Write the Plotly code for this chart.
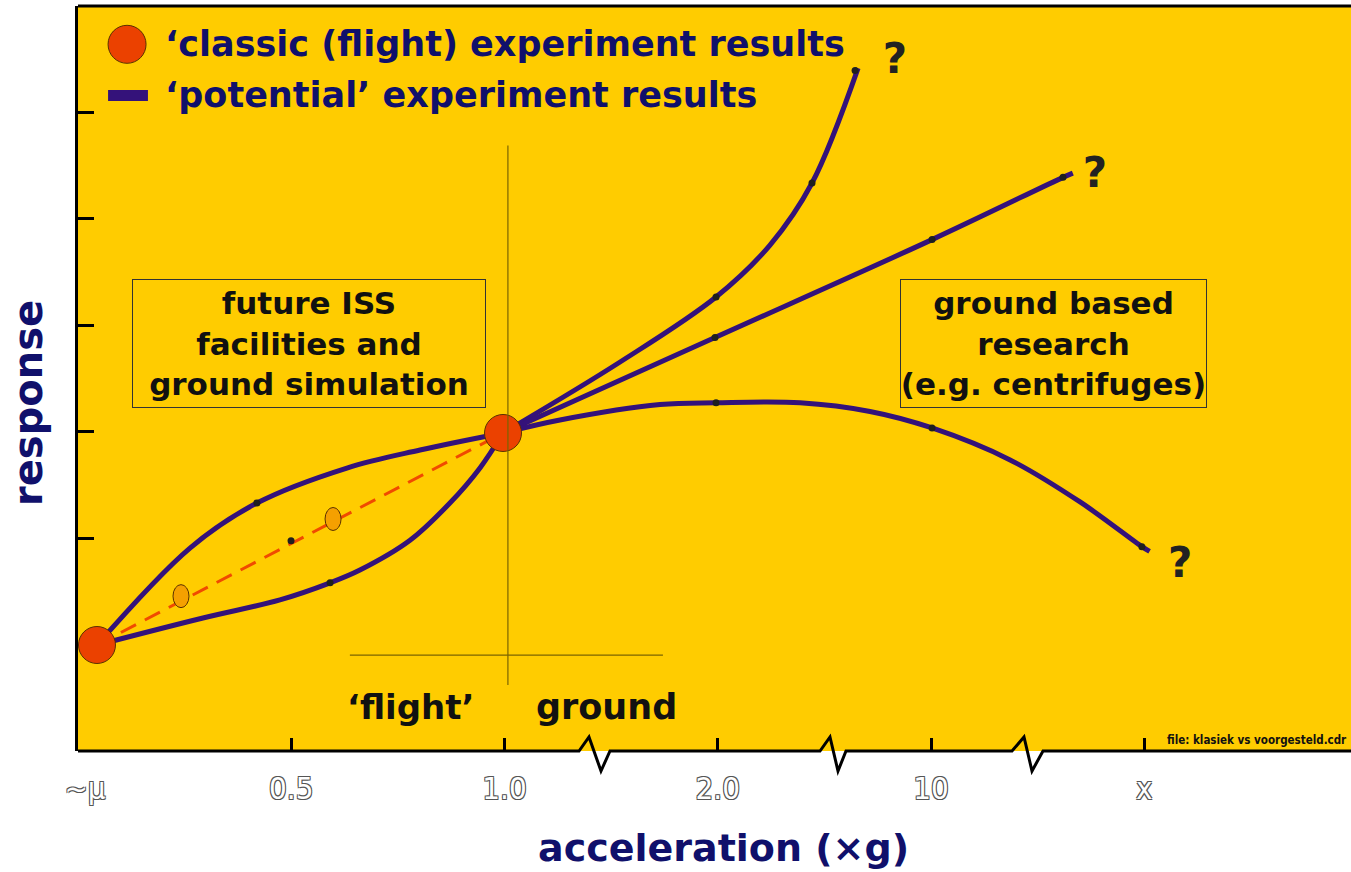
import plotly.graph_objects as go

# positions along the (broken) acceleration axis: 0=~μ, 1=0.5, 2=1.0, 3=2.0, 4=10, 5=x
tick_pos = [0, 1, 2, 3, 4, 5]
tick_text = ["\u2002~μ", "0.5", "1.0", "2.0", "10", "x"]

# classic (flight) results
classic_x = [0.089, 1.993]
classic_y = [0.996, 2.988]

# potential curves, left of 1 g
upper_left_x = [0.089, 0.525, 0.839, 1.261, 1.604, 1.993]
upper_left_y = [0.996, 1.907, 2.330, 2.659, 2.828, 2.988]
lower_left_x = [0.089, 0.586, 0.947, 1.182, 1.322, 1.557, 1.744, 1.885, 1.993]
lower_left_y = [0.996, 1.25, 1.42, 1.58, 1.70, 1.98, 2.33, 2.66, 2.988]

# interpolated (dashed) line with intermediate results
dashed_x = [0.089, 1.993]
dashed_y = [0.996, 2.988]
mid_x = [0.483, 1.196]
mid_y = [1.455, 2.18]

# potential curves, right of 1 g
steep_x = [1.993, 2.542, 2.992, 3.245, 3.442, 3.658]
steep_y = [2.988, 3.655, 4.266, 4.754, 5.337, 6.417]
linear_x = [1.993, 2.987, 4.005, 4.619, 4.665]
linear_y = [2.988, 3.885, 4.805, 5.39, 5.43]
arch_x = [1.993, 2.260, 2.729, 2.992, 3.386, 3.714, 4.005, 4.371, 4.699, 4.989, 5.025]
arch_y = [2.988, 3.11, 3.255, 3.272, 3.272, 3.19, 3.035, 2.735, 2.34, 1.92, 1.875]

# small black sample dots on the curves
dot_x = [0.839, 1.182, 0.999, 2.992, 3.442, 3.644, 2.987, 4.005, 4.619, 2.992, 4.005, 4.989]
dot_y = [2.33, 1.58, 1.975, 4.266, 5.337, 6.395, 3.885, 4.805, 5.39, 3.272, 3.035, 1.92]

# question marks at the open ends
q_x = [3.831, 4.769, 5.168]
q_y = [6.47, 5.40, 1.73]

PURPLE = "#34127A"
NAVY = "#10106B"
RED = "#EB4100"
YELLOW = "#FFCC00"
FONT = "DejaVu Sans"

W, H = 1351, 872
ML, MR, MT, MB = 78, 0, 6, 121
PW, PH = W - ML - MR, H - MT - MB


def paper(px, py):
    return (px - ML) / PW, (H - MB - py) / PH


fig = go.Figure()

for xs, ys in [(upper_left_x, upper_left_y), (lower_left_x, lower_left_y),
               (steep_x, steep_y), (linear_x, linear_y), (arch_x, arch_y)]:
    fig.add_trace(go.Scatter(x=xs, y=ys, mode="lines", line=dict(color=PURPLE, width=5, shape="spline"),
                             hoverinfo="skip", showlegend=False))

fig.add_trace(go.Scatter(x=dashed_x, y=dashed_y, mode="lines",
                         line=dict(color="#F04A00", width=3, dash="17px,10px"), showlegend=False))

fig.add_trace(go.Scatter(x=dot_x, y=dot_y, mode="markers",
                         marker=dict(color="#1f1f1f", size=7), showlegend=False))

fig.add_trace(go.Scatter(x=classic_x, y=classic_y, mode="markers",
                         marker=dict(color=RED, size=37, line=dict(color="#5a3000", width=1)), showlegend=False))

fig.add_trace(go.Scatter(x=q_x, y=q_y, mode="text", text=["?"] * len(q_x),
                         textfont=dict(family=FONT, size=42, color="#222222", weight="bold"), showlegend=False))

# legend symbol
fig.add_trace(go.Scatter(x=[0.23], y=[6.64], mode="markers",
                         marker=dict(color=RED, size=38, line=dict(color="#5a3000", width=1)), showlegend=False))

# intermediate results as small ellipses
for cx, cy in zip(mid_x, mid_y):
    fig.add_shape(type="circle", xref="x", yref="y", xsizemode="pixel", ysizemode="pixel",
                  xanchor=cx, yanchor=cy, x0=-8, x1=8, y0=-11.5, y1=11.5,
                  fillcolor="#F5A000", line=dict(color="#5a3000", width=1))

# flight / ground divider
fig.add_shape(type="line", xref="x", yref="y", x0=2.016, x1=2.016, y0=0.62, y1=5.69,
              line=dict(color="#7a6400", width=1.2))
fig.add_shape(type="line", xref="x", yref="y", x0=1.275, x1=2.743, y0=0.90, y1=0.90,
              line=dict(color="#7a6400", width=1.2))

# legend bar
fig.add_shape(type="line", xref="x", yref="y", x0=0.141, x1=0.328, y0=6.16, y1=6.16,
              line=dict(color=PURPLE, width=11))

# top border and broken bottom axis
fig.add_shape(type="line", xref="paper", yref="paper", x0=0, x1=1, y0=1, y1=1,
              line=dict(color="black", width=3))
axis_px = [(78, 751), (579, 751), (589, 737), (601, 771), (610, 751), (820, 751), (830, 737),
           (838, 771), (846, 751), (1012, 751), (1024, 737), (1032, 771), (1043, 751), (1351, 751)]
path = "M " + " L ".join("%.5f,%.5f" % paper(px, py) for px, py in axis_px)
fig.add_shape(type="path", xref="paper", yref="paper", path=path, line=dict(color="black", width=3))

# legend text
fig.add_annotation(x=0.40, y=6.64, xref="x", yref="y", text="‘classic (flight) experiment results",
                   showarrow=False, xanchor="left", yanchor="middle",
                   font=dict(family=FONT, size=35, color=NAVY, weight="bold"))
fig.add_annotation(x=0.40, y=6.16, xref="x", yref="y", text="‘potential’ experiment results",
                   showarrow=False, xanchor="left", yanchor="middle",
                   font=dict(family=FONT, size=35, color=NAVY, weight="bold"))

# boxed region labels
box_font = dict(family=FONT, size=31, color="#111111", weight="bold")
fig.add_annotation(x=1.083, y=3.83, xref="x", yref="y", text="future ISS<br>facilities and<br>ground simulation",
                   showarrow=False, width=350, height=125, borderpad=1, bordercolor="#333333", borderwidth=1,
                   font=box_font)
fig.add_annotation(x=4.574, y=3.83, xref="x", yref="y", text="ground based<br>research<br>(e.g. centrifuges)",
                   showarrow=False, width=303, height=125, borderpad=1, bordercolor="#333333", borderwidth=1,
                   font=box_font)

fig.add_annotation(x=1.557, y=0.41, xref="x", yref="y", text="‘flight’", showarrow=False,
                   font=dict(family=FONT, size=34, color="#111111", weight="bold"))
fig.add_annotation(x=2.476, y=0.41, xref="x", yref="y", text="ground", showarrow=False,
                   font=dict(family=FONT, size=35, color="#111111", weight="bold"))

fig.add_annotation(x=5.097, y=0.10, xref="x", yref="y", text="file: klasiek vs voorgesteld.cdr",
                   showarrow=False, xanchor="left", yanchor="middle",
                   font=dict(family="DejaVu Sans Condensed", size=11.5, color="#111111", weight="bold"))

# axis titles
fig.add_annotation(x=paper(723, 0)[0], y=paper(0, 848)[1], xref="paper", yref="paper",
                   text="acceleration (×g)", showarrow=False, xanchor="center", yanchor="middle",
                   font=dict(family=FONT, size=38, color=NAVY, weight="bold"))
fig.add_annotation(x=paper(28, 0)[0], y=paper(0, 403)[1], xref="paper", yref="paper",
                   text="response", showarrow=False, textangle=-90, xanchor="center", yanchor="middle",
                   font=dict(family=FONT, size=40, color=NAVY, weight="bold"))

fig.update_layout(
    width=W, height=H,
    margin=dict(l=ML, r=MR, t=MT, b=MB),
    paper_bgcolor="white",
    plot_bgcolor=YELLOW,
    showlegend=False,
)
fig.update_xaxes(range=[0, PW / 213.25], tickvals=tick_pos, ticktext=tick_text,
                 ticks="inside", ticklen=13, tickwidth=2.5, tickcolor="black",
                 showgrid=False, zeroline=False, showline=False, ticklabelstandoff=16,
                 tickfont=dict(family="DejaVu Sans Condensed", size=31, color="white",
                               shadow="-1px -1px 0 #555, 1px -1px 0 #555, -1px 1px 0 #555, 1px 1px 0 #555"))
fig.update_yaxes(range=[0, 7.0], tickvals=[2, 3, 4, 5, 6], showticklabels=False,
                 ticks="inside", ticklen=16, tickwidth=3, tickcolor="black",
                 showgrid=False, zeroline=False, showline=True, linecolor="black", linewidth=3)

# drop the default page margin so the figure sits at the window origin
fig.write_html("out.html", config={"displayModeBar": False},
               post_script="document.body.style.margin='0';")
